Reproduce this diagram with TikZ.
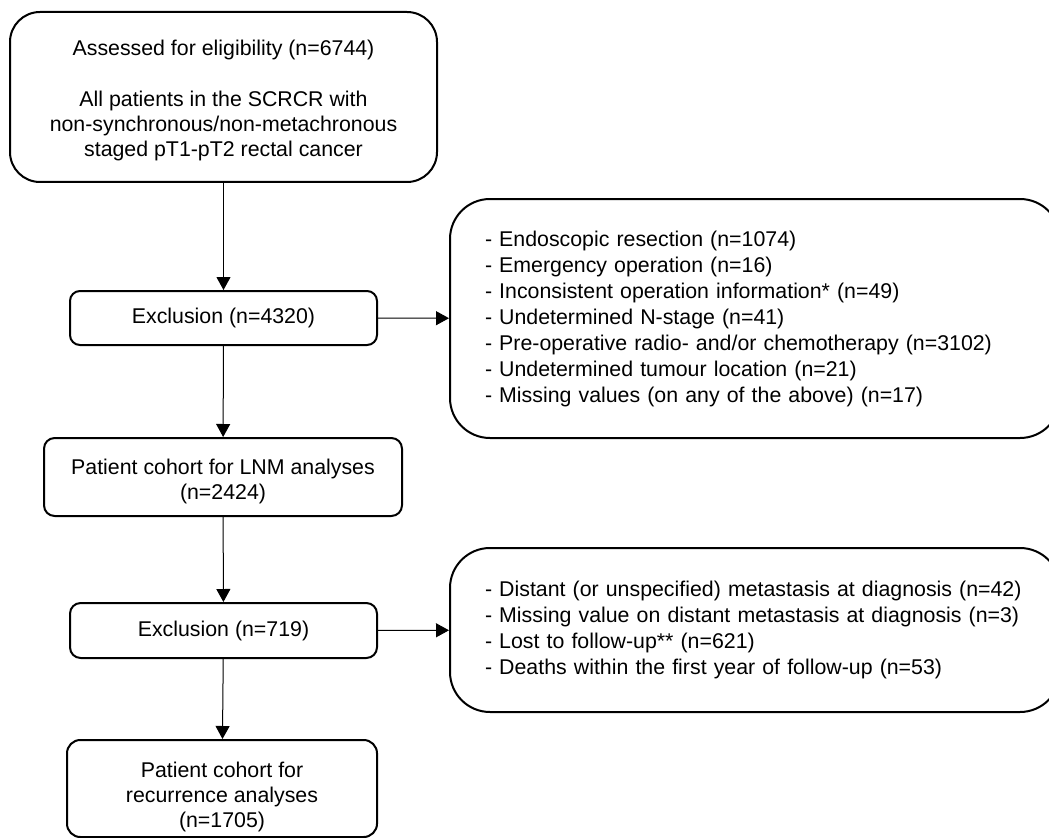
\documentclass[tikz,border=0pt]{standalone}
\usepackage{fontspec}
\setmainfont{Liberation Sans}
\usetikzlibrary{arrows.meta, positioning}

\tikzset{
  flowbox/.style={draw, line width=1.5pt, align=center, inner sep=0pt, font=\fontsize{16}{18.75}\selectfont},
  listbox/.style={draw, line width=1.5pt, rounded corners=30pt, align=left, text width=405pt, inner xsep=26.25pt, font=\fontsize{16}{19.5}\selectfont},
  flowarrow/.style={-{Triangle[length=9.75pt,width=10.5pt]}, line width=0.75pt},
}

\begin{document}
\begin{tikzpicture}[x=0.75pt, y=-0.75pt]
  \useasboundingbox (0,0) rectangle (1049,838);

  % main column
  \node[flowbox, rounded corners=22.5pt, minimum width=320.25pt, minimum height=127.5pt] (assessed) at (223.5,97) {\rule{0pt}{17pt}Assessed for eligibility (n=6744)\\[20pt] All patients in the SCRCR with\\ non-synchronous/non-metachronous\\ staged pT1-pT2 rectal cancer};
  \node[flowbox, rounded corners=7.5pt, minimum width=230.25pt, minimum height=40.5pt] (excl1) at (223.5,318) {Exclusion (n=4320)};
  \node[flowbox, rounded corners=8pt, minimum width=268.5pt, minimum height=58.5pt] (lnm) at (223,477) {\rule{0pt}{17.7pt}Patient cohort for LNM analyses\\ (n=2424)};
  \node[flowbox, rounded corners=8pt, minimum width=230.25pt, minimum height=41.25pt] (excl2) at (223.5,630.5) {Exclusion (n=719)};
  \node[flowbox, rounded corners=10pt, minimum width=232.5pt, minimum height=72.75pt] (recur) at (222,788.5) {\rule{0pt}{25pt}Patient cohort for\\ recurrence analyses\\ (n=1705)};

  % exclusion reasons
  \node[listbox, minimum height=179.25pt] (reasons1) at (755,318.5) {- Endoscopic resection (n=1074)\\ - Emergency operation (n=16)\\ - Inconsistent operation information* (n=49)\\ - Undetermined N-stage (n=41)\\ - Pre-operative radio- and/or chemotherapy (n=3102)\\ - Undetermined tumour location (n=21)\\ - Missing values (on any of the above) (n=17)};
  \node[listbox, minimum height=123pt] (reasons2) at (755,630) {- Distant (or unspecified) metastasis at diagnosis (n=42)\\ - Missing value on distant metastasis at diagnosis (n=3)\\ - Lost to follow-up** (n=621)\\ - Deaths within the first year of follow-up (n=53)};

  \draw[flowarrow] (assessed) -- (excl1);
  \draw[flowarrow] (excl1) -- (reasons1);
  \draw[flowarrow] (excl1) -- (lnm);
  \draw[flowarrow] (lnm) -- (excl2);
  \draw[flowarrow] (excl2) -- (reasons2);
  \draw[flowarrow] (excl2) -- (recur);
\end{tikzpicture}
\end{document}
